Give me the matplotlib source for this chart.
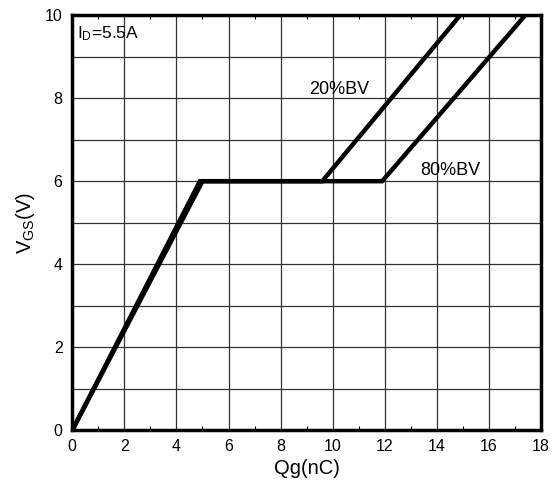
import matplotlib
matplotlib.use("Agg")
import matplotlib.pyplot as plt
from matplotlib.ticker import MultipleLocator

plt.rcParams["font.family"] = ["Liberation Sans", "DejaVu Sans"]
plt.rcParams["mathtext.default"] = "regular"

# gate charge curves (Qg in nC, VGS in V)
qg_20 = [0, 4.9, 9.6, 14.9]
vgs_20 = [0, 6, 6, 10]
qg_80 = [0, 5.0, 11.9, 17.4]
vgs_80 = [0, 6, 6, 10]

fig = plt.figure(figsize=(5.52, 4.9), dpi=100)
ax = fig.add_axes([0.131, 0.122, 0.849, 0.847])

ax.plot(qg_20, vgs_20, color="black", lw=3.2, solid_joinstyle="miter")
ax.plot(qg_80, vgs_80, color="black", lw=3.2, solid_joinstyle="miter")

ax.set_xlim(0, 18)
ax.set_ylim(0, 10)
ax.xaxis.set_major_locator(MultipleLocator(2))
ax.xaxis.set_minor_locator(MultipleLocator(1))
ax.yaxis.set_major_locator(MultipleLocator(2))
ax.yaxis.set_minor_locator(MultipleLocator(1))
ax.grid(which="major", color="#333333", lw=0.9)
ax.grid(which="minor", axis="y", color="#333333", lw=0.9)
ax.tick_params(which="both", direction="in", top=True, right=True, length=0,
               labelsize=11.5)
ax.tick_params(axis="y", pad=7)
ax.tick_params(axis="x", pad=6)
ax.tick_params(which="minor", axis="x", length=3, width=0.8)

for s in ax.spines.values():
    s.set_linewidth(2.5)

ax.set_xlabel("Qg(nC)", fontsize=14.5, labelpad=4)
ax.set_ylabel("V$_{GS}$(V)", fontsize=14.5, labelpad=6)

ax.text(0.18, 9.45, "I$_D$=5.5A", fontsize=12.5, va="baseline", ha="left")
ax.text(9.1, 8.1, "20%BV", fontsize=13, va="baseline", ha="left")
ax.text(13.36, 6.15, "80%BV", fontsize=13, va="baseline", ha="left")

fig.savefig("out.png", dpi=100)
plt.close(fig)
